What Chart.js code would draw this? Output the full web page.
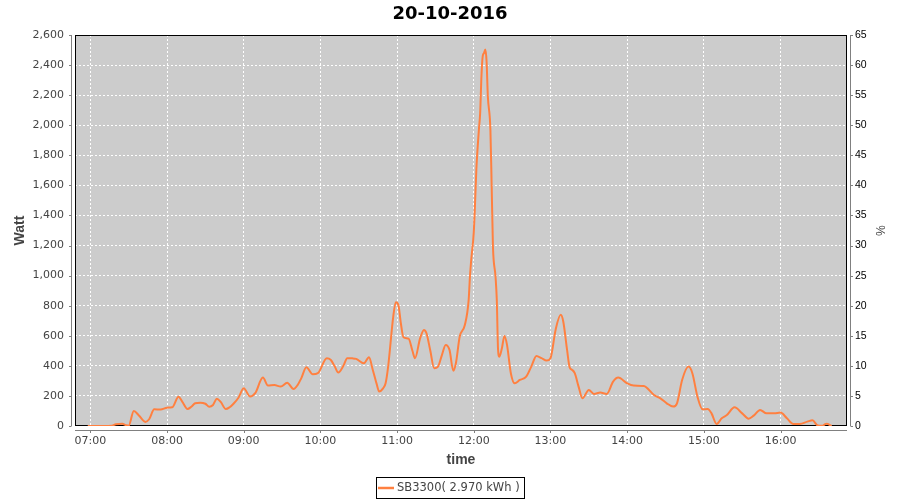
<!DOCTYPE html>
<html><head><meta charset="utf-8">
<script src="https://cdn.jsdelivr.net/npm/chart.js@4"></script>
<style>html,body{margin:0;padding:0;background:#fff}canvas{display:block}</style>
</head><body>
<canvas id="c" width="900" height="500"></canvas>
<script>
const chartTitle = '20-10-2016';
const seriesLabel = 'SB3300( 2.970 kWh )';
const yTitle = 'Watt';
const y2Title = '%';
const xTitle = 'time';

const times = ['06:58','07:05','07:10','07:17','07:20','07:25','07:28','07:30','07:34','07:38','07:43','07:46','07:50','07:55',
'08:00','08:04','08:09','08:12','08:16','08:19','08:22','08:26','08:30','08:33','08:36','08:39','08:42','08:46','08:49','08:52','08:56',
'09:00','09:05','09:09','09:15','09:19','09:24','09:29','09:34','09:39','09:42','09:45','09:49','09:54','09:58',
'10:05','10:08','10:11','10:14','10:18','10:21','10:25','10:28','10:34','10:38','10:41','10:44','10:46','10:49','10:51','10:53','10:57','10:59',
'11:01','11:03','11:05','11:09','11:12','11:14','11:18','11:21','11:23','11:26','11:29','11:32','11:35','11:38','11:41','11:44','11:46','11:49','11:53','11:56','11:57','11:58',
'12:00','12:01','12:02','12:04','12:05','12:06','12:07','12:08','12:09','12:10','12:11','12:13','12:14','12:15','12:17','12:18','12:19','12:20','12:22','12:24','12:26','12:29','12:32','12:36','12:41','12:45','12:49','12:53','12:57',
'13:00','13:04','13:08','13:10','13:13','13:15','13:17','13:19','13:22','13:25','13:30','13:34','13:39','13:44','13:49','13:53',
'14:00','14:05','14:13','14:21','14:26','14:31','14:36','14:39','14:43','14:48','14:51','14:55','14:59',
'15:03','15:06','15:10','15:14','15:18','15:24','15:30','15:35','15:39','15:44','15:49','15:55',
'16:00','16:05','16:10','16:15','16:21','16:25','16:29','16:33','16:35','16:36','16:40'];
const watts = [0,0,0,2,12,15,5,2,100,70,27,45,111,110,
122,124,195,160,113,128,151,155,148,128,140,182,160,113,125,148,190,
251,196,218,322,269,272,262,287,246,270,317,391,344,351,
451,441,400,355,400,451,450,446,417,457,373,280,229,250,284,395,728,823,
805,680,590,581,500,451,583,639,617,500,384,395,470,539,506,368,417,595,672,839,994,1105,
1290,1483,1704,1971,2082,2326,2459,2480,2503,2426,2193,1971,1593,1194,994,839,506,461,517,599,539,351,284,306,328,395,466,451,435,
451,639,739,695,506,390,373,351,262,184,240,213,222,213,295,322,
284,269,266,206,184,151,129,151,306,395,351,195,111,
113,84,13,51,73,124,84,49,69,107,84,84,
89,51,13,13,29,38,4,2,13,15,0];

const xTickLabels = ['07:00','08:00','09:00','10:00','11:00','12:00','13:00','14:00','15:00','16:00'];
const wattTicks = [0,200,400,600,800,1000,1200,1400,1600,1800,2000,2200,2400,2600];
const percentTicks = [0,5,10,15,20,25,30,35,40,45,50,55,60,65];
const xRange = ['06:48','16:52'];

const toMin = t => { const [h,m] = t.split(':').map(Number); return (h-7)*60 + m; };
const points = times.map((t,i) => ({x: toMin(t), y: watts[i]}));
const LINE = 'rgb(255,128,64)';

const decor = {
  id: 'decor',
  beforeDraw(chart) {
    const {ctx, chartArea: a} = chart;
    ctx.save();
    ctx.fillStyle = '#fff';
    ctx.fillRect(0,0,chart.width,chart.height);
    ctx.fillStyle = '#cccccc';
    ctx.fillRect(a.left, a.top, a.right-a.left, a.bottom-a.top);
    ctx.restore();
  },
  beforeDatasetsDraw(chart) {
    const {ctx, chartArea: a} = chart;
    ctx.save();
    ctx.strokeStyle = '#000'; ctx.lineWidth = 1;
    ctx.strokeRect(a.left+0.5, a.top+0.5, a.right-a.left-1, a.bottom-a.top-1);
    ctx.restore();
  },
  afterDraw(chart) {
    const {ctx, chartArea: a, scales} = chart;
    ctx.save();
    ctx.strokeStyle = '#808080'; ctx.lineWidth = 1;
    ctx.beginPath();
    const lx = a.left - 3.5, by = a.bottom + 4.5, rx = a.right + 3.5;
    ctx.moveTo(lx, a.top); ctx.lineTo(lx, a.bottom);
    wattTicks.forEach(v => { const y = Math.round(scales.y.getPixelForValue(v))+0.5; ctx.moveTo(lx-2.5, y); ctx.lineTo(lx, y); });
    ctx.moveTo(a.left, by); ctx.lineTo(a.right, by);
    xTickLabels.forEach(t => { const x = Math.round(scales.x.getPixelForValue(toMin(t)))+0.5; ctx.moveTo(x, by); ctx.lineTo(x, by+2.5); });
    ctx.moveTo(rx, a.top); ctx.lineTo(rx, a.bottom);
    percentTicks.forEach(v => { const y = Math.round(scales.y2.getPixelForValue(v))+0.5; ctx.moveTo(rx, y); ctx.lineTo(rx+2.5, y); });
    ctx.stroke();
    // title
    ctx.fillStyle = '#000';
    ctx.font = 'bold 18px "DejaVu Sans"';
    ctx.textAlign = 'center'; ctx.textBaseline = 'alphabetic';
    ctx.fillText(chartTitle, 450, 19);
    // legend
    ctx.font = '11.5px "DejaVu Sans"';
    const tw = ctx.measureText(seriesLabel).width;
    const w = Math.round(tw + 25), h = 21;
    const lx0 = Math.round(450 - w/2), ly0 = 477;
    ctx.strokeStyle = '#000';
    ctx.strokeRect(lx0+0.5, ly0+0.5, w, h);
    ctx.strokeStyle = LINE; ctx.lineWidth = 2.5;
    ctx.beginPath(); ctx.moveTo(lx0+2, ly0+11); ctx.lineTo(lx0+18, ly0+11); ctx.stroke();
    ctx.fillStyle = '#444';
    ctx.textAlign = 'left'; ctx.textBaseline = 'middle';
    ctx.fillText(seriesLabel, lx0+21, ly0+11.5);
    ctx.restore();
  }
};

new Chart(document.getElementById('c'), {
  type: 'line',
  data: { datasets: [{ label: seriesLabel, data: points, borderColor: LINE, borderWidth: 2, pointRadius: 0, cubicInterpolationMode: 'monotone', fill: false, yAxisID: 'y' }] },
  options: {
    responsive: false, animation: false, devicePixelRatio: 1,
    layout: { padding: { top: 35, left: 0, right: 0, bottom: 0 } },
    plugins: { legend: { display: false }, title: { display: false }, tooltip: { enabled: false } },
    scales: {
      x: {
        type: 'linear', position: 'bottom', min: toMin(xRange[0]), max: toMin(xRange[1]),
        afterFit(s) { s.height = 74; },
        afterBuildTicks(s) { s.ticks = xTickLabels.map(t => ({ value: toMin(t) })); },
        ticks: { callback: (v, i) => xTickLabels[i], padding: 9, color: '#444', font: { family: 'DejaVu Sans', size: 11 }, maxRotation: 0, autoSkip: false },
        grid: { color: '#fff', lineWidth: 1, drawTicks: false },
        border: { display: false, dash: [2, 2] },
        title: { display: true, text: xTitle, color: '#444', font: { family: 'Liberation Sans', size: 14, weight: 'bold' }, padding: { top: 0, bottom: 31 } }
      },
      y: {
        type: 'linear', position: 'left', min: 0, max: 2600,
        afterFit(s) { s.width = 75; },
        afterBuildTicks(s) { s.ticks = wattTicks.map(v => ({ value: v })); },
        ticks: { callback: v => v.toLocaleString('en-US'), padding: 11, color: '#444', font: { family: 'DejaVu Sans', size: 11 } },
        grid: { color: '#fff', lineWidth: 1, drawTicks: false },
        border: { display: false, dash: [2, 2] },
        title: { display: true, text: yTitle, color: '#444', font: { family: 'Liberation Sans', size: 14, weight: 'bold' }, padding: { top: 12, bottom: 0 } }
      },
      y2: {
        type: 'linear', position: 'right', min: 0, max: 65,
        afterFit(s) { s.width = 53; },
        afterBuildTicks(s) { s.ticks = percentTicks.map(v => ({ value: v })); },
        ticks: { callback: v => String(v), padding: 8, color: '#000', font: { family: 'Liberation Sans', size: 10.5 } },
        grid: { display: false, drawTicks: false },
        border: { display: false },
        title: { display: true, text: y2Title, color: '#444', font: { family: 'Liberation Sans', size: 12 }, padding: { top: 13, bottom: 0 } }
      }
    }
  },
  plugins: [decor]
});
</script>
</body></html>
